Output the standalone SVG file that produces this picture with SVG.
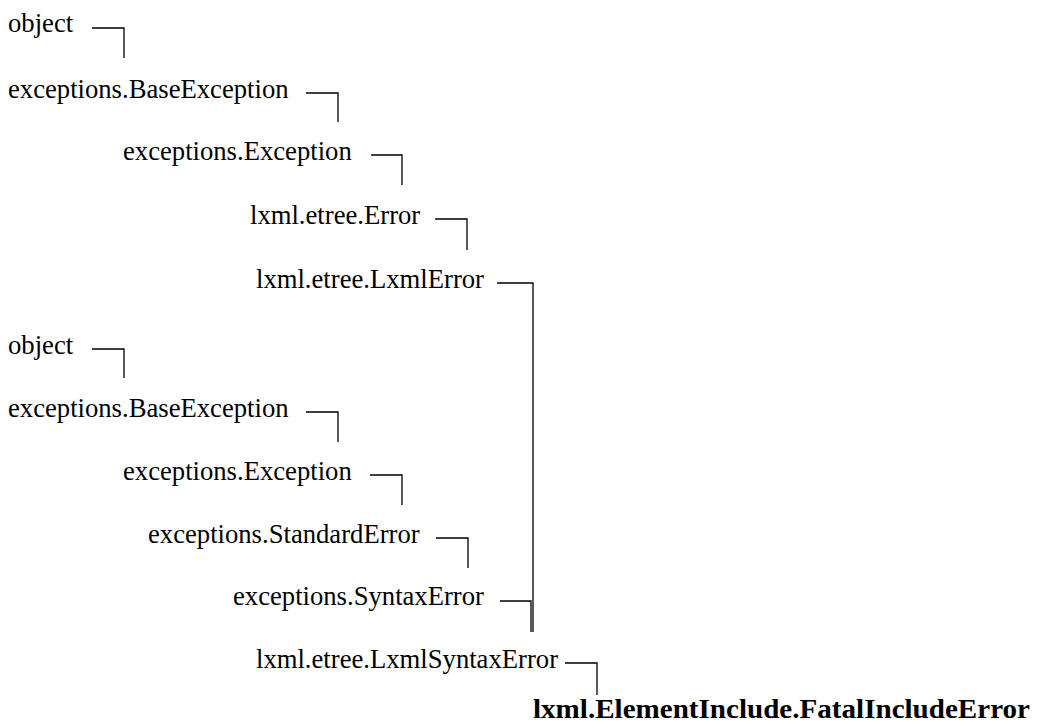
<svg xmlns="http://www.w3.org/2000/svg" width="1037" height="722" viewBox="0 0 1037 722">
<style>
text{font-family:"Liberation Serif","Times New Roman",serif;font-size:26.67px;fill:#000}
.b{font-weight:bold}
.c{fill:none;stroke:#000;stroke-width:1.3}
</style>
<rect width="1037" height="722" fill="#fff"/>
<g id="n1"><text x="8" y="32">object</text></g>
<g id="n2"><text x="8" y="98">exceptions.BaseException</text></g>
<g id="n3"><text x="123" y="160">exceptions.Exception</text></g>
<g id="n4"><text x="250" y="224">lxml.etree.Error</text></g>
<g id="n5"><text x="256" y="288">lxml.etree.LxmlError</text></g>
<g id="n6"><text x="8" y="354">object</text></g>
<g id="n7"><text x="8" y="417">exceptions.BaseException</text></g>
<g id="n8"><text x="123" y="480">exceptions.Exception</text></g>
<g id="n9"><text x="148" y="543">exceptions.StandardError</text></g>
<g id="n10"><text x="233" y="605">exceptions.SyntaxError</text></g>
<g id="n11"><text x="256" y="668">lxml.etree.LxmlSyntaxError</text></g>
<g id="n12"><text class="b" x="533" y="718" textLength="497" lengthAdjust="spacingAndGlyphs">lxml.ElementInclude.FatalIncludeError</text></g>
<g id="connectors">
<path class="c" d="M92 28H124V58"/>
<path class="c" d="M306 93H338V122"/>
<path class="c" d="M371 155H402V185"/>
<path class="c" d="M435 219H467V250"/>
<path class="c" d="M497 283H533V632"/>
<path class="c" d="M92 349H124V378"/>
<path class="c" d="M306 412H338V442"/>
<path class="c" d="M370 475H402V505"/>
<path class="c" d="M436 538H468V568"/>
<path class="c" d="M500 601H531V632"/>
<path class="c" d="M565 663H597V695"/>
</g>
</svg>
